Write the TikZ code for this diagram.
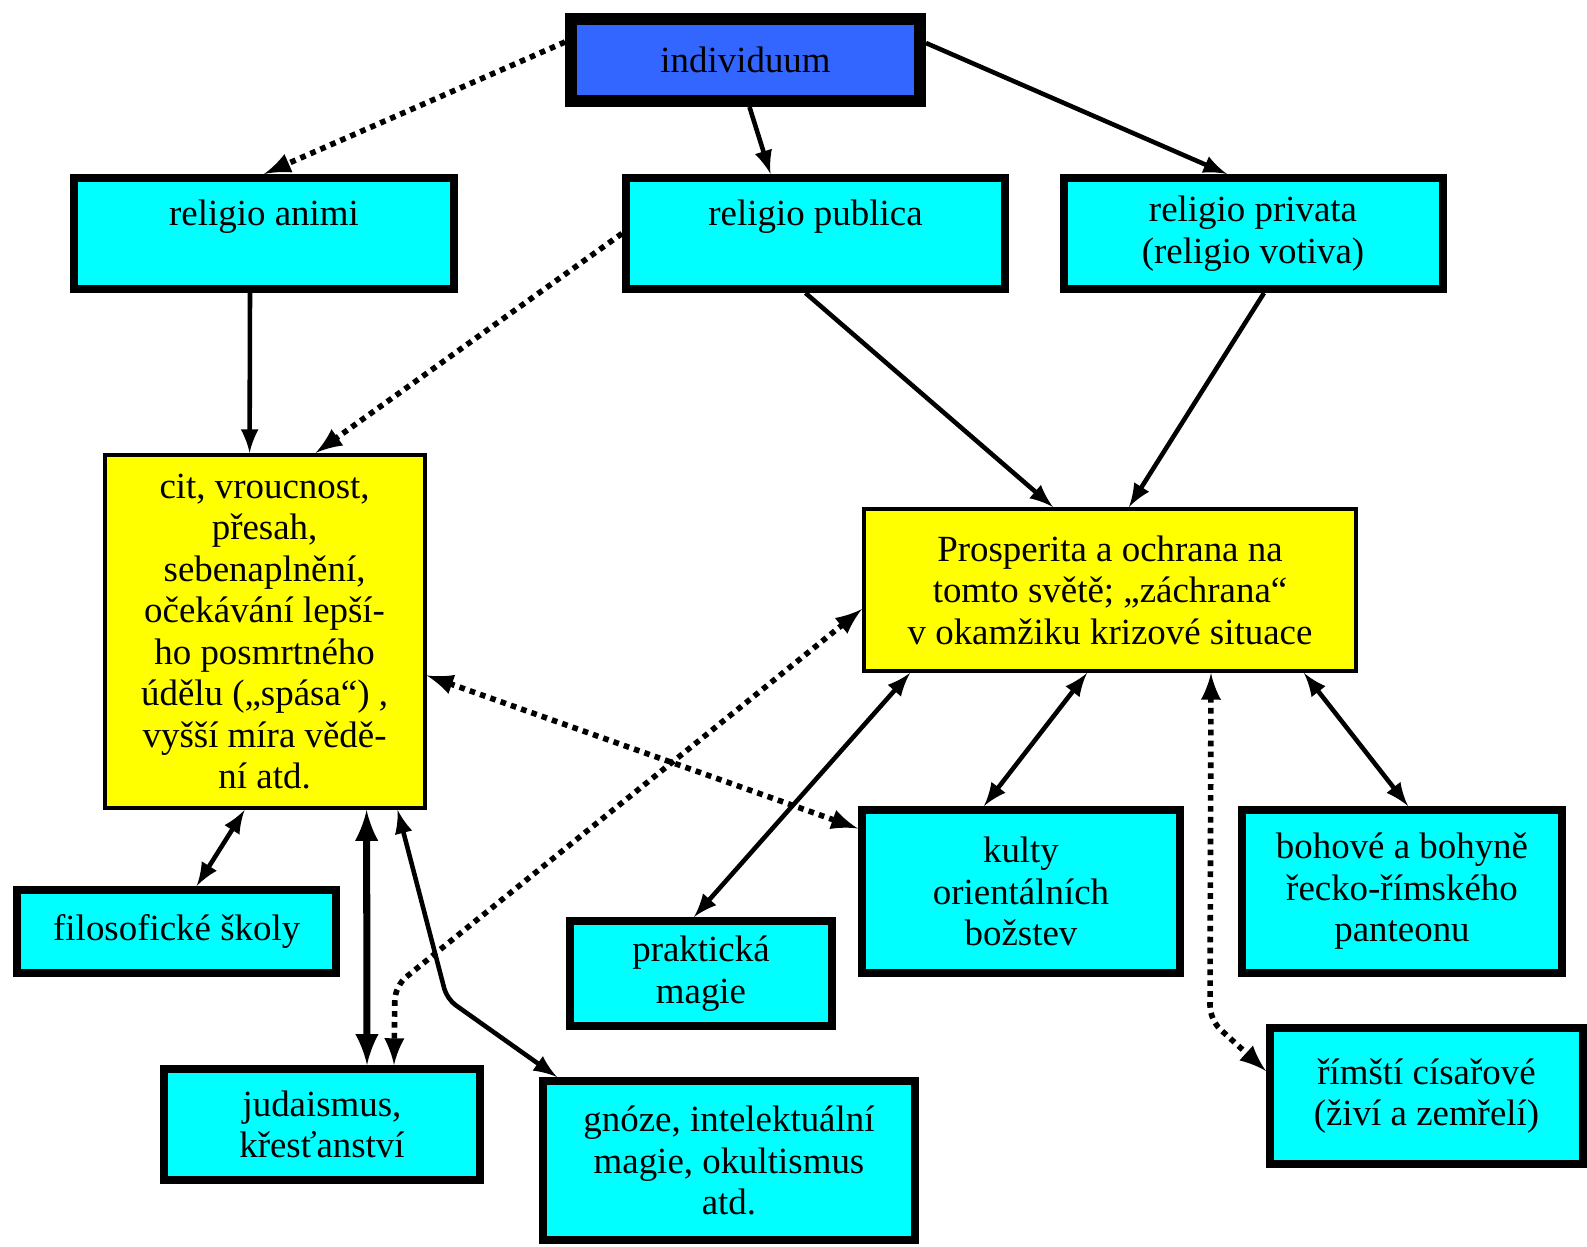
\documentclass[tikz,border=0pt]{standalone}
\usepackage{fontspec}
\setmainfont{Liberation Serif}
\usepackage{tikz}
\usetikzlibrary{calc,arrows}
\definecolor{indblue}{RGB}{51,102,255}
\definecolor{boxcyan}{RGB}{0,255,255}
\definecolor{boxyellow}{RGB}{255,255,0}
\tikzset{
  basebox/.style={rectangle, draw=black, align=center, inner sep=1pt, font=\fontsize{10.5}{11.8}\selectfont},
  topbox/.style={basebox, fill=indblue, line width=0.12cm},
  cyanbox/.style={basebox, fill=boxcyan, line width=0.08cm},
  yellowbox/.style={basebox, fill=boxyellow, line width=0.04cm},
  solidline/.style={line width=1.3pt},
  dotline/.style={line width=1.6pt, dash pattern=on 1.6pt off 1.5pt},
}

\begin{document}
\begin{tikzpicture}[>=latex]
            \useasboundingbox (0,0) rectangle (15.87,-12.46);
            % boxes
            \node (ind) at (7.455,-0.60) [topbox, minimum width=3.49cm, minimum height=0.82cm] {individuum};
            \node (ani) at (2.64,-2.335) [cyanbox, minimum width=3.80cm, minimum height=1.11cm] {religio animi\\\mbox{}};
            \node (pub) at (8.155,-2.335) [cyanbox, minimum width=3.79cm, minimum height=1.11cm] {religio publica\\\mbox{}};
            \node (pri) at (12.53,-2.335) [cyanbox, minimum width=3.79cm, minimum height=1.11cm] {religio privata\\(religio votiva)};
            \node (cit) at (2.646,-6.314) [yellowbox, minimum width=3.20cm, minimum height=3.53cm] {cit, vroucnost,\\přesah,\\sebenaplnění,\\očekávání lepší-\\ho posmrtného\\údělu („spása“) ,\\vyšší míra vědě-\\ní atd.};
            \node (pro) at (11.10,-5.90) [yellowbox, minimum width=4.92cm, minimum height=1.62cm] {Prosperita a ochrana na\\tomto světě; „záchrana“\\v okamžiku krizové situace};
            \node (fil) at (1.767,-9.315) [cyanbox, minimum width=3.19cm, minimum height=0.83cm] {filosofické školy};
            \node (jud) at (3.22,-11.245) [cyanbox, minimum width=3.16cm, minimum height=1.11cm] {judaismus,\\křesťanství};
            \node (gno) at (7.29,-11.605) [cyanbox, minimum width=3.72cm, minimum height=1.59cm] {gnóze, intelektuální\\magie, okultismus\\atd.};
            \node (pra) at (7.01,-9.735) [cyanbox, minimum width=2.62cm, minimum height=1.05cm] {praktická\\magie};
            \node (kul) at (10.21,-8.915) [cyanbox, minimum width=3.18cm, minimum height=1.63cm] {kulty\\orientálních\\božstev};
            \node (boh) at (14.02,-8.915) [cyanbox, minimum width=3.20cm, minimum height=1.63cm] {bohové a bohyně\\řecko-římského\\panteonu};
            \node (rim) at (14.265,-10.96) [cyanbox, minimum width=3.13cm, minimum height=1.36cm] {římští císařové\\(živí a zemřelí)};
            % bends
            \coordinate (gbend) at (4.47,-9.99);
            \coordinate (jbend) at (3.95,-9.86);
            \coordinate (rbend) at (12.10,-10.20);
            % arrows from individuum
            \draw [dotline, ->] ([yshift=0.18cm]ind.west) -- (ani.north);
            \draw [solidline, ->] ([xshift=0.04cm]ind.south) -- ([xshift=-0.45cm]pub.north);
            \draw [solidline, ->] ([yshift=0.17cm]ind.east) -- ([xshift=-0.26cm]pri.north);
            \draw [solidline, ->] ([xshift=-0.14cm]ani.south) -- ([xshift=-0.15cm]cit.north);
            \draw [dotline, ->] (pub.west) -- ([xshift=0.51cm]cit.north);
            \draw [solidline, ->] ([xshift=-0.10cm]pub.south) -- ([xshift=-0.57cm]pro.north);
            \draw [solidline, ->] ([xshift=0.11cm]pri.south) -- ([xshift=0.19cm]pro.north);
            % arrows below
            \draw [solidline, <->] ([xshift=-0.20cm]cit.south) -- ([xshift=0.20cm]fil.north);
            \draw [line width=2pt, <->] ([xshift=1.02cm]cit.south) -- ([xshift=0.45cm]jud.north);
            \draw [solidline, <->, rounded corners=3pt] ([xshift=1.33cm]cit.south) -- (gbend) -- ([xshift=-1.72cm]gno.north);
            \draw [dotline, <->, rounded corners=4pt] ([yshift=-0.19cm]pro.west) -- (jbend) -- ([xshift=0.72cm]jud.north);
            \draw [dotline, <->] ([yshift=-0.44cm]cit.east) -- ([yshift=0.63cm]kul.west);
            \draw [solidline, <->] ([xshift=-2.0cm]pro.south) -- ([xshift=-0.07cm]pra.north);
            \draw [solidline, <->] ([xshift=-0.23cm]pro.south) -- ([xshift=-0.37cm]kul.north);
            \draw [solidline, <->] ([xshift=1.94cm]pro.south) -- ([xshift=0.06cm]boh.north);
            \draw [dotline, <->, rounded corners=4pt] ([xshift=1.01cm]pro.south) -- (rbend) -- ([yshift=0.25cm]rim.west);
\end{tikzpicture}
\end{document}
